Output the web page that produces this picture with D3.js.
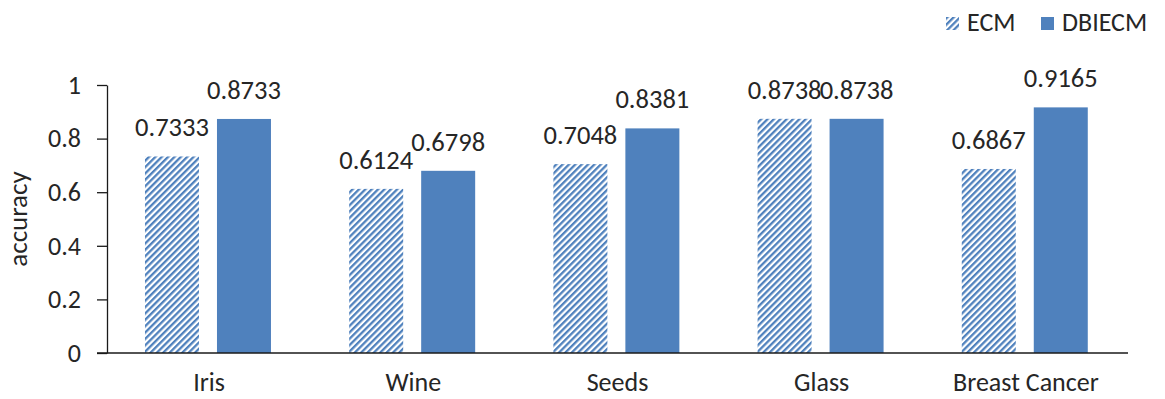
<!DOCTYPE html>
<html>
<head>
<meta charset="utf-8">
<script src="https://cdn.jsdelivr.net/npm/d3@7"></script>
<style>
  html, body { margin: 0; padding: 0; background: #fff; }
  svg { display: block; font-family: Calibri, Carlito, Lato, sans-serif; }
</style>
</head>
<body>
<svg id="chart" width="1165" height="399"></svg>
<script>
// Accuracy of ECM vs DBIECM on five datasets
const categories = ["Iris", "Wine", "Seeds", "Glass", "Breast Cancer"];
const seriesNames = ["ECM", "DBIECM"];
const ecmValues = [0.7333, 0.6124, 0.7048, 0.8738, 0.6867];
const dbiecmValues = [0.8733, 0.6798, 0.8381, 0.8738, 0.9165];
const yTicks = [0, 0.2, 0.4, 0.6, 0.8, 1];

const blue = "#4f81bd";
const textColor = "#262626";
const fontStack = "Calibri, Carlito, Lato, sans-serif";

const svg = d3.select("#chart");

// hatch pattern for ECM bars
const defs = svg.append("defs");
const pat = defs.append("pattern")
  .attr("id", "hatch")
  .attr("patternUnits", "userSpaceOnUse")
  .attr("width", 4.5).attr("height", 4.5)
  .attr("patternTransform", "rotate(45)");
pat.append("rect").attr("width", 4.5).attr("height", 4.5).attr("fill", "#fff");
pat.append("rect").attr("x", 0).attr("y", 0).attr("width", 2.3).attr("height", 4.5).attr("fill", blue);

const plot = { left: 107, right: 1128, top: 85, bottom: 353 };

const x = d3.scaleBand().domain(categories).range([plot.left, plot.right]).paddingInner(0).paddingOuter(0);
const xSub = d3.scaleBand().domain(seriesNames)
  .range([x.bandwidth() * 0.186, x.bandwidth() * 0.803])
  .paddingInner(0.25).paddingOuter(0);
const y = d3.scaleLinear().domain([0, 1]).range([plot.bottom, plot.top]);

const data = categories.map((c, i) => ({
  category: c,
  values: [
    { series: "ECM", value: ecmValues[i] },
    { series: "DBIECM", value: dbiecmValues[i] }
  ]
}));

// bars
const groups = svg.append("g").selectAll("g")
  .data(data).join("g")
  .attr("transform", d => `translate(${x(d.category)},0)`);

groups.selectAll("rect")
  .data(d => d.values).join("rect")
  .attr("x", d => xSub(d.series))
  .attr("y", d => y(d.value))
  .attr("width", xSub.bandwidth())
  .attr("height", d => y(0) - y(d.value))
  .attr("fill", d => d.series === "ECM" ? "url(#hatch)" : blue);

// value labels
groups.selectAll("text.val")
  .data(d => d.values).join("text")
  .attr("class", "val")
  .attr("x", d => xSub(d.series) + xSub.bandwidth() / 2)
  .attr("y", d => y(d.value) - 20)
  .attr("text-anchor", "middle")
  .attr("font-size", 26.5)
  .attr("fill", textColor)
  .text(d => d.value.toFixed(4));

// y axis
const yAxis = svg.append("g")
  .attr("transform", `translate(${plot.left},0)`)
  .call(d3.axisLeft(y).tickValues(yTicks).tickFormat(d3.format("")).tickSize(10).tickSizeOuter(0).tickPadding(16));
yAxis.select(".domain").attr("stroke", "#1a1a1a").attr("stroke-width", 1.3);
yAxis.selectAll(".tick line").attr("stroke", "#1a1a1a").attr("stroke-width", 1.3);
yAxis.selectAll(".tick text")
  .attr("font-size", 26)
  .attr("font-family", fontStack)
  .attr("fill", textColor);

// x axis baseline and category labels
const xAxis = svg.append("g")
  .attr("transform", `translate(0,${plot.bottom})`)
  .call(d3.axisBottom(x).tickSize(0).tickPadding(20));
xAxis.select(".domain").attr("stroke", "#1a1a1a").attr("stroke-width", 1.3)
  .attr("d", `M${plot.left - 10},0H${plot.right}`);
xAxis.selectAll(".tick text")
  .attr("font-size", 26)
  .attr("font-family", fontStack)
  .attr("fill", textColor);

// y axis title
svg.append("text")
  .attr("transform", `translate(27,${(plot.top + plot.bottom) / 2}) rotate(-90)`)
  .attr("text-anchor", "middle")
  .attr("font-size", 27)
  .attr("fill", textColor)
  .text("accuracy");

// legend
const legendItems = [
  { name: "ECM", fill: "url(#hatch)", x: 946 },
  { name: "DBIECM", fill: blue, x: 1041 }
];
const legend = svg.append("g").selectAll("g")
  .data(legendItems).join("g")
  .attr("transform", d => `translate(${d.x},17)`);
legend.append("rect")
  .attr("width", 13).attr("height", 13)
  .attr("fill", d => d.fill);
legend.append("text")
  .attr("x", 21).attr("y", 13.5)
  .attr("font-size", 26)
  .attr("fill", textColor)
  .text(d => d.name);
</script>
</body>
</html>
